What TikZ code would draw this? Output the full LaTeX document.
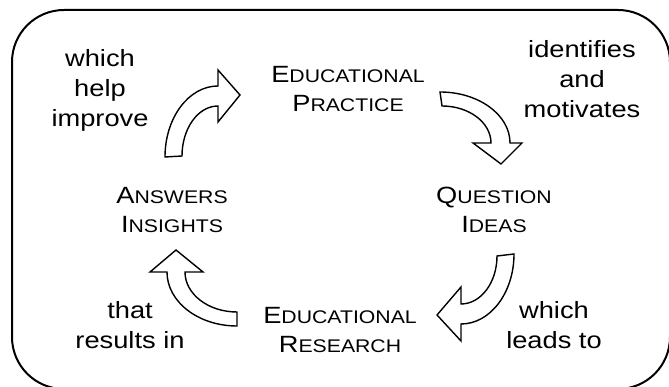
\documentclass[tikz,border=0pt]{standalone}
\usepackage{fontspec}
\setmainfont{Liberation Sans}[FakeStretch=1.16]
\newcommand{\smc}[2]{#1{\fontsize{18.3}{29}\selectfont #2}}

\tikzset{
  txt/.style={inner sep=0pt, align=center, font=\fontsize{23.5}{30}\selectfont},
  sctxt/.style={txt, font=\fontsize{23.5}{29}\selectfont},
  bigarrow/.style={draw, line width=1.4pt, fill=white, line join=miter},
}

\begin{document}
\begin{tikzpicture}[x=1pt, y=1pt]

\useasboundingbox (0,0) rectangle (669,387);
\clip (0,0) rectangle (669,387);

\draw[line width=2pt, rounded corners=52pt] (12,-2) rectangle (670,377);


\node[sctxt] (P) at (348,298) {\smc{E}{DUCATIONAL}\\\smc{P}{RACTICE}};
\node[sctxt] (Q) at (494,177) {\smc{Q}{UESTION}\\\smc{I}{DEAS}};
\node[sctxt] (R) at (340,57) {\smc{E}{DUCATIONAL}\\\smc{R}{ESEARCH}};
\node[sctxt] (A) at (172,177) {\smc{A}{NSWERS}\\\smc{I}{NSIGHTS}};


\node[txt] (L1) at (582,308) {identifies\\and\\motivates};
\node[txt] (L2) at (554,62) {which\\leads to};
\node[txt] (L3) at (130,62) {that\\results in};
\node[txt] (L4) at (100,297) {which\\help\\improve};


% practice -> question
\draw[bigarrow] (440,295) arc[start angle=90, end angle=0, x radius=70, y radius=51]
  -- (522,244) -- (501,223) -- (473,244) -- (491,244)
  arc[start angle=0, end angle=90, x radius=49, y radius=37] -- cycle;

% question -> research
\draw[bigarrow] (514,133) arc[start angle=0, end angle=-90, x radius=53, y radius=70]
  -- (461,46) -- (437,72) -- (461,100) -- (461,83)
  arc[start angle=-90, end angle=0, x radius=36, y radius=48] -- cycle;

% research -> answers
\draw[bigarrow] (237,61) arc[start angle=270, end angle=180, x radius=70, y radius=54]
  -- (150,115) -- (176,137) -- (203,115) -- (185,115)
  arc[start angle=180, end angle=270, x radius=52, y radius=40] -- cycle;

% answers -> practice
\draw[bigarrow] (165,230) arc[start angle=180, end angle=90, x radius=53, y radius=71]
  -- (218,317) -- (240,292) -- (218,265) -- (218,281)
  arc[start angle=90, end angle=180, x radius=36, y radius=50] -- cycle;

\end{tikzpicture}
\end{document}
